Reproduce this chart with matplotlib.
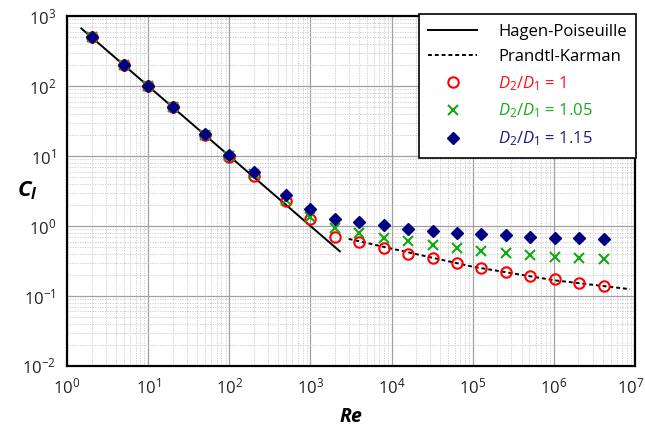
import matplotlib
matplotlib.use("Agg")
import matplotlib.pyplot as plt
import matplotlib.transforms as mtransforms
from matplotlib.ticker import LogLocator, NullFormatter, FixedLocator

plt.rcParams['font.family'] = ['Open Sans', 'DejaVu Sans']
plt.rcParams['mathtext.fontset'] = 'custom'
plt.rcParams['mathtext.rm'] = 'Open Sans'
plt.rcParams['mathtext.it'] = 'Open Sans:italic'
plt.rcParams['mathtext.bf'] = 'Open Sans:bold'
plt.rcParams['mathtext.bfit'] = 'Open Sans:bold:italic'

# Data
re_points = [2, 5, 10, 20, 50, 100, 200, 500, 1000, 2000, 4000, 8000, 16000,
             32000, 64000, 128000, 256000, 512000, 1.024e6, 2.048e6, 4.096e6]
cl_d100 = [500, 200, 100, 50, 20.1, 9.8, 5.2, 2.25, 1.26, 0.70, 0.59, 0.485, 0.40,
           0.346, 0.295, 0.249, 0.22, 0.193, 0.173, 0.152, 0.139]
cl_d105 = [500, 200, 100, 50, 20.1, 10.0, 5.5, 2.35, 1.36, 0.95, 0.79, 0.68, 0.61,
           0.535, 0.48, 0.44, 0.416, 0.39, 0.365, 0.346, 0.334]
cl_d115 = [510, 203, 102, 51, 20.5, 10.4, 5.85, 2.77, 1.75, 1.27, 1.15, 1.02, 0.92,
           0.86, 0.80, 0.77, 0.74, 0.70, 0.68, 0.67, 0.65]

hp_re = [1.5, 2300]
hp_cl = [667, 0.435]

pk_re = [2950, 1e4, 1e5, 1e6, 8.7e6]
pk_cl = [0.655, 0.475, 0.262, 0.168, 0.125]

x_major = [1e0, 1e1, 1e2, 1e3, 1e4, 1e5, 1e6, 1e7]
y_major = [1e-2, 1e-1, 1e0, 1e1, 1e2, 1e3]

labels = ["Hagen-Poiseuille", "Prandtl-Karman",
          r"$D_2/D_1$ = 1", r"$D_2/D_1$ = 1.05", r"$D_2/D_1$ = 1.15"]
text_colors = ["black", "black", "#ff1010", "#1aaa1a", "#1a1a8c"]

fig = plt.figure(figsize=(6.45, 4.25), dpi=100)
ax = fig.add_axes([0.104, 0.139, 0.8805, 0.823])

ax.plot(hp_re, hp_cl, color='black', lw=1.4, label=labels[0], zorder=3)
ax.plot(pk_re, pk_cl, color='black', lw=1.4, ls=(0, (2, 1.5)), label=labels[1], zorder=3)
ax.plot(re_points, cl_d100, ls='none', marker='o', ms=7.5, mfc='none', mec='#ff0000',
        mew=1.5, label=labels[2], zorder=4)
ax.plot(re_points, cl_d105, ls='none', marker='x', ms=7, mec='#11aa11',
        mew=1.5, label=labels[3], zorder=5)
ax.plot(re_points, cl_d115, ls='none', marker='D', ms=6.5, mfc='#000080', mec='#000080',
        label=labels[4], zorder=6)

ax.set_xscale('log')
ax.set_yscale('log')
ax.set_xlim(1, 1e7)
ax.set_ylim(1e-2, 1e3)

ax.xaxis.set_major_locator(FixedLocator(x_major))
ax.xaxis.set_minor_locator(LogLocator(base=10, subs=range(2, 10), numticks=100))
ax.yaxis.set_major_locator(FixedLocator(y_major))
ax.yaxis.set_minor_locator(LogLocator(base=10, subs=range(2, 10), numticks=100))
ax.xaxis.set_minor_formatter(NullFormatter())
ax.yaxis.set_minor_formatter(NullFormatter())

ax.grid(True, which='major', color='#a0a0a0', lw=0.9, ls='-')
ax.grid(True, which='minor', color='#c8c8c8', lw=0.6, ls=(0, (1.5, 1.5)))
ax.set_axisbelow(True)

ax.tick_params(which='both', length=0, labelsize=12, colors='#222222', pad=8)
for s in ax.spines.values():
    s.set_color('black')
    s.set_linewidth(1.6)

# keep the last x tick label inside the canvas
fig.canvas.draw()
xlabels = ax.get_xticklabels()
if xlabels:
    last = xlabels[-1]
    last.set_transform(last.get_transform() +
                       mtransforms.ScaledTranslation(-3 / 72, 0, fig.dpi_scale_trans))

ax.set_xlabel(r"$\mathbfit{Re}$", fontsize=14, labelpad=8)
ax.set_ylabel(r"$\mathbfit{C_l}$", fontsize=16, rotation=0, labelpad=18)
ax.yaxis.set_label_coords(-0.07, 0.47)

leg = ax.legend(loc='upper right', bbox_to_anchor=(1.002, 1.005), fontsize=12,
                frameon=True, fancybox=False, edgecolor='black', framealpha=1,
                borderpad=0.55, labelspacing=0.55, handlelength=2.9,
                handletextpad=1.3, borderaxespad=0)
leg.get_frame().set_linewidth(1.2)
for t, c in zip(leg.get_texts(), text_colors):
    t.set_color(c)

fig.savefig("out.png", dpi=100)
